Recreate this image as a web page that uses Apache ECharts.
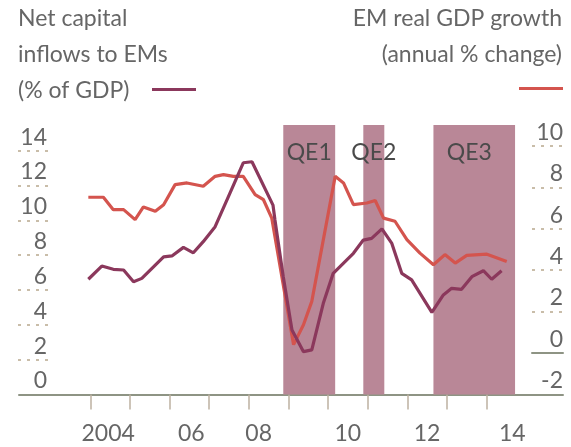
<!DOCTYPE html>
<html>
<head>
<meta charset="utf-8">
<script src="https://cdn.jsdelivr.net/npm/echarts@6/dist/echarts.min.js"></script>
<style>
  html, body { margin: 0; padding: 0; background: #ffffff; }
  #chart { width: 571px; height: 447px; }
</style>
</head>
<body>
<div id="chart"></div>
<script>
// ---- Data (decimal years) ----
const netCapitalDates = [2003.95, 2004.29, 2004.58, 2004.84, 2005.09, 2005.30, 2005.85, 2006.06, 2006.35, 2006.60, 2006.85, 2007.15, 2007.48, 2007.86, 2008.08, 2008.61, 2008.66, 2008.87, 2009.09, 2009.38, 2009.59, 2009.88, 2010.13, 2010.64, 2010.89, 2011.10, 2011.36, 2011.61, 2011.86, 2012.11, 2012.62, 2012.91, 2013.12, 2013.37, 2013.63, 2013.92, 2014.13, 2014.38];
const netCapitalValues = [6.62, 7.38, 7.19, 7.15, 6.48, 6.67, 7.91, 7.96, 8.45, 8.14, 8.78, 9.64, 11.34, 13.31, 13.37, 10.88, 10.02, 6.77, 3.70, 2.46, 2.56, 5.24, 6.96, 8.11, 8.87, 8.97, 9.51, 8.68, 6.96, 6.58, 4.72, 5.72, 6.10, 6.04, 6.77, 7.11, 6.62, 7.11];

const gdpGrowthDates = [2003.95, 2004.33, 2004.58, 2004.84, 2005.13, 2005.34, 2005.64, 2005.85, 2006.14, 2006.44, 2006.85, 2007.15, 2007.36, 2007.61, 2007.86, 2008.16, 2008.37, 2008.58, 2009.13, 2009.38, 2009.59, 2010.18, 2010.39, 2010.64, 2010.98, 2011.19, 2011.40, 2011.69, 2011.99, 2012.32, 2012.66, 2012.95, 2013.21, 2013.50, 2014.01, 2014.51];
const gdpGrowthValues = [7.53, 7.53, 6.93, 6.93, 6.45, 7.06, 6.85, 7.17, 8.14, 8.22, 8.06, 8.54, 8.62, 8.54, 8.54, 7.66, 7.41, 6.52, 0.41, 1.37, 2.50, 8.54, 8.22, 7.17, 7.25, 7.37, 6.52, 6.37, 5.48, 4.83, 4.27, 4.76, 4.35, 4.72, 4.78, 4.43];

const qeNames = ['QE1', 'QE2', 'QE3'];
const qeStarts = [2008.87, 2010.89, 2012.66];
const qeEnds = [2010.18, 2011.42, 2014.72];

const yearTicks = [2004, 2005, 2006, 2007, 2008, 2009, 2010, 2011, 2012, 2013, 2014];
const yearLabelValues = [2004.45, 2006.55, 2008.25, 2010.5, 2012.5, 2014.65];
const yearLabelTexts = ['2004', '06', '08', '10', '12', '14'];

const leftTicks = { min: 0, max: 14, step: 2 };
const rightTicks = { min: -2, max: 10, step: 2 };

const leftTitle = 'Net capital\ninflows to EMs\n(% of GDP)';
const rightTitle = 'EM real GDP growth\n(annual % change)';
const netName = 'Net capital inflows to EMs (% of GDP)';
const gdpName = 'EM real GDP growth (annual % change)';

// ---- Styles ----
const FONT = 'Lato, "Noto Sans", sans-serif';
const FS = 23;
const textGrey = '#666666';
const purple = '#8b385c';
const red = '#d4544e';
const qeFill = '#b98797';
const dotColor = '#c9bda9';
const axisGreen = '#8e9484';
const tickColor = '#bdb1a1';

const toPairs = (xs, ys) => xs.map((x, i) => [x, ys[i]]);

const chart = echarts.init(document.getElementById('chart'), null, { renderer: 'canvas' });

const leftSplitColors = ['rgba(0,0,0,0)'].concat(Array(7).fill(dotColor));
const rightSplitColors = ['rgba(0,0,0,0)', 'rgba(0,0,0,0)'].concat(Array(5).fill(dotColor));

chart.setOption({
  animation: false,
  backgroundColor: '#ffffff',
  textStyle: { fontFamily: FONT },
  graphic: [
    { type: 'text', x: 18, y: 1, style: { text: leftTitle, fill: textGrey, font: FS + 'px ' + FONT, lineHeight: 36, align: 'left', verticalAlign: 'top' } },
    { type: 'text', x: 562, y: 1, style: { text: rightTitle, fill: textGrey, font: FS + 'px ' + FONT, lineHeight: 36, align: 'right', verticalAlign: 'top' } }
  ],
  legend: [
    { data: [netName], left: 152, top: 88, icon: 'rect', itemWidth: 44, itemHeight: 3, itemGap: 0, formatter: () => '', selectedMode: false, padding: 0 },
    { data: [gdpName], left: 519, top: 87, icon: 'rect', itemWidth: 44, itemHeight: 3, itemGap: 0, formatter: () => '', selectedMode: false, padding: 0 }
  ],
  grid: [
    { left: 19, right: 8, top: 125, bottom: 52.5 },
    { left: 18, width: 35, top: 150.7, bottom: 52.5 },
    { left: 532, width: 31, top: 146, bottom: 52.7 }
  ],
  xAxis: [
    {
      gridIndex: 0, type: 'value', min: 2002.2, max: 2015.93,
      axisLine: { show: true, lineStyle: { color: axisGreen, width: 2 } },
      axisTick: { show: true, customValues: yearTicks, length: 15, lineStyle: { color: tickColor, width: 1.5 } },
      axisLabel: {
        show: true, customValues: yearLabelValues, margin: 28, fontSize: FS, color: textGrey, fontFamily: FONT,
        formatter: (v) => { const i = yearLabelValues.indexOf(v); return i >= 0 ? yearLabelTexts[i] : ''; }
      },
      splitLine: { show: false }
    },
    { gridIndex: 1, type: 'value', show: false },
    {
      gridIndex: 2, type: 'value', show: true,
      axisLine: { show: true, onZero: true, lineStyle: { color: axisGreen, width: 2 } },
      axisTick: { show: false }, axisLabel: { show: false }, splitLine: { show: false }
    }
  ],
  yAxis: [
    { gridIndex: 0, type: 'value', min: 0, max: 15.48, show: false },
    { gridIndex: 0, type: 'value', min: -2, max: 11.02, show: false },
    {
      gridIndex: 1, type: 'value', position: 'right', min: leftTicks.min, max: leftTicks.max, interval: leftTicks.step,
      axisLine: { show: false }, axisTick: { show: false },
      axisLabel: { inside: true, margin: 6, fontSize: FS, color: textGrey, fontFamily: FONT, verticalAlign: 'bottom', padding: [0, 0, 2, 0] },
      splitLine: { show: true, lineStyle: { color: leftSplitColors, width: 2, type: [3, 6] } }
    },
    {
      gridIndex: 2, type: 'value', position: 'right', min: rightTicks.min, max: rightTicks.max, interval: rightTicks.step,
      axisLine: { show: false }, axisTick: { show: false },
      axisLabel: { inside: true, margin: 0, fontSize: FS, color: textGrey, fontFamily: FONT, verticalAlign: 'bottom', padding: [0, 0, 2, 0] },
      splitLine: { show: true, lineStyle: { color: rightSplitColors, width: 2, type: [3, 6] } }
    }
  ],
  series: [
    {
      name: 'QE', type: 'line', xAxisIndex: 0, yAxisIndex: 0, data: [], z: 1, silent: true,
      markArea: {
        silent: true,
        itemStyle: { color: qeFill, opacity: 1 },
        label: { show: true, position: 'insideTop', distance: 16, fontSize: FS, color: '#4a4a4a', fontFamily: FONT },
        data: qeNames.map((n, i) => [
          { name: n, xAxis: qeStarts[i], label: i === 2 ? { offset: [-5, 0] } : {} },
          { xAxis: qeEnds[i] }
        ])
      }
    },
    {
      name: gdpName, type: 'line', xAxisIndex: 0, yAxisIndex: 1, z: 3,
      data: toPairs(gdpGrowthDates, gdpGrowthValues), symbol: 'none', smooth: false,
      lineStyle: { color: red, width: 3.2 }, itemStyle: { color: red }
    },
    {
      name: netName, type: 'line', xAxisIndex: 0, yAxisIndex: 0, z: 4,
      data: toPairs(netCapitalDates, netCapitalValues), symbol: 'none', smooth: false,
      lineStyle: { color: purple, width: 3.2 }, itemStyle: { color: purple }
    }
  ]
});
</script>
</body>
</html>
